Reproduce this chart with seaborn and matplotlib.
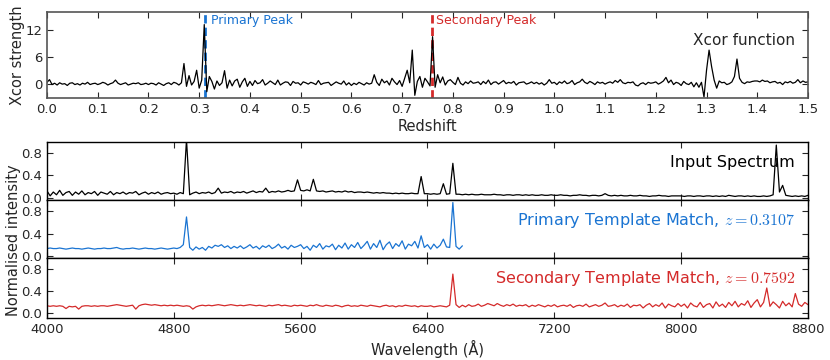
import numpy as np
import pandas as pd
import seaborn as sns
import matplotlib.pyplot as plt

# --- cross-correlation function, redshift grid step 0.005 from 0 to 1.5 ---
xcor_strength = [
    0.3, 0.9, -0.2, 0.1, -0.3, 0.2, -0.1, 0.0, -0.4, 0.1, 0.2, -0.2, 0.0, -0.3, 0.1, -0.1, 0.3, -0.2, 0.0, 0.1,
    -0.2, 0.0, 0.3, 0.1, -0.3, 0.0, 0.2, 0.8, 0.1, -0.2, 0.0, 0.2, -0.3, -0.1, 0.1, 0.0, 0.2, -0.2, -0.1, 0.1,
    -0.2, 0.1, 0.0, -0.3, 0.2, -0.1, -0.4, 0.0, 0.2, -0.2, 0.3, 0.1, -0.3, 0.2, 4.5, -0.6, 1.8, -0.3, 0.5, 3.0,
    -1.0, 0.8, 13.2, -1.8, 1.6, 0.5, -1.2, 0.6, -0.4, 0.2, 2.9, -1.0, 0.8, -0.5, 0.6, 1.0, -0.8, 0.4, 1.2, -0.6,
    0.5, -0.4, 0.7, 0.0, 0.2, 0.9, -0.3, 0.1, 0.6, 0.2, -0.2, 0.8, -0.3, 0.1, 0.4, 0.3, -0.4, 0.5, 0.1, 0.2,
    -0.3, 0.4, 0.2, -0.1, 0.3, 0.1, -0.2, 0.7, -0.2, 0.1, 0.2, 0.3, -0.4, 0.0, 0.4, 0.1, -0.1, 0.6, -0.3, 0.2,
    -0.4, 0.1, -0.2, 0.3, 0.0, -0.3, 0.2, -0.1, 0.1, 2.0, 0.3, -0.4, 1.0, 0.2, 0.6, -0.3, 1.2, 0.4, -0.2, 0.7,
    -0.6, 1.2, 3.0, 0.2, 7.5, -2.6, 0.5, 1.6, -0.8, 1.2, 0.4, -0.5, 10.5, -0.8, 2.0, 0.2, 1.5, -0.3, 0.6, 0.9,
    0.3, -0.2, 1.4, 0.1, -0.3, 0.4, 0.0, 0.6, 0.1, 0.2, 0.4, -0.2, 0.5, 0.0, 0.8, -0.2, 0.3, 0.4, -0.1, 0.3,
    0.7, 0.0, 0.3, 0.1, 0.5, -0.3, 0.2, 0.3, 0.4, -0.1, 0.1, 0.4, 0.0, 0.3, -0.1, 0.2, -0.3, 0.1, 0.9, 0.1,
    0.3, -0.2, 0.4, 0.1, 0.6, 0.0, 0.2, 0.7, -0.2, 0.2, 0.4, 1.0, 0.3, 0.0, 0.5, 0.2, -0.2, 0.4, 0.1, 0.3,
    -0.1, 0.2, 0.4, 0.1, 0.7, 0.3, 0.9, 0.2, 0.0, 0.3, 0.2, 0.4, -0.3, -0.5, 0.0, 0.2, -0.2, 0.3, 0.1, 0.2,
    0.4, -0.1, 0.2, 0.6, 1.4, 0.2, 0.8, -0.2, 0.3, 0.1, -0.4, 0.5, 0.0, -0.2, 0.3, -0.7, 0.2, -0.8, 0.3, -3.0,
    3.0, 7.5, 3.8, 0.8, -1.0, 0.6, 0.2, 0.3, -0.2, 0.0, 0.4, 1.6, 5.5, 1.2, 0.3, 0.0, 0.4, 0.3, 0.5, 0.6,
    0.6, 0.4, 0.8, 0.5, 0.6, 0.2, 0.4, 0.5, 0.1, 0.3, -0.2, 0.4, 0.2, 0.5, 0.1, 0.3, 0.9, 0.2, 0.6, 0.3,
    0.4,
]
redshift = np.linspace(0.0, 1.5, len(xcor_strength))
primary_z = 0.3107
secondary_z = 0.7592

# --- spectra, wavelength grid step 20 A from 4000 A ---
input_flux = [
    0.12, 0.03, 0.10, 0.05, 0.13, 0.04, 0.09, 0.11, 0.04, 0.10, 0.06, 0.12, 0.05, 0.09, 0.07, 0.11, 0.04, 0.10, 0.08, 0.06,
    0.11, 0.05, 0.09, 0.07, 0.10, 0.06, 0.09, 0.08, 0.11, 0.05, 0.08, 0.10, 0.06, 0.09, 0.07, 0.10, 0.06, 0.08, 0.09, 0.07,
    0.08, 0.06, 0.09, 0.07, 1.05, 0.05, 0.08, 0.10, 0.07, 0.09, 0.08, 0.10, 0.07, 0.09, 0.17, 0.08, 0.10, 0.09, 0.11, 0.08,
    0.10, 0.09, 0.11, 0.08, 0.10, 0.12, 0.09, 0.11, 0.10, 0.17, 0.09, 0.11, 0.10, 0.12, 0.10, 0.11, 0.13, 0.11, 0.12, 0.32,
    0.13, 0.12, 0.14, 0.12, 0.33, 0.12, 0.11, 0.12, 0.10, 0.11, 0.12, 0.10, 0.11, 0.10, 0.12, 0.10, 0.11, 0.09, 0.10, 0.10,
    0.09, 0.10, 0.09, 0.08, 0.09, 0.08, 0.09, 0.08, 0.08, 0.07, 0.08, 0.07, 0.08, 0.07, 0.07, 0.08, 0.07, 0.07, 0.38, 0.07,
    0.07, 0.06, 0.07, 0.06, 0.07, 0.25, 0.06, 0.07, 0.62, 0.06, 0.06, 0.05, 0.06, 0.05, 0.06, 0.05, 0.05, 0.06, 0.05, 0.05,
    0.05, 0.06, 0.05, 0.05, 0.04, 0.05, 0.05, 0.04, 0.05, 0.05, 0.04, 0.05, 0.04, 0.05, 0.04, 0.04, 0.05, 0.04, 0.04, 0.05,
    0.04, 0.04, 0.05, 0.04, 0.04, 0.03, 0.04, 0.04, 0.05, 0.04, 0.04, 0.03, 0.04, 0.04, 0.03, 0.04, 0.07, 0.04, 0.03, 0.04,
    0.03, 0.04, 0.03, 0.03, 0.04, 0.03, 0.03, 0.04, 0.03, 0.03, 0.02, 0.03, 0.03, 0.04, 0.03, 0.03, 0.02, 0.03, 0.03, 0.03,
    0.03, 0.02, 0.03, 0.03, 0.02, 0.03, 0.03, 0.02, 0.03, 0.03, 0.02, 0.03, 0.02, 0.03, 0.02, 0.04, 0.03, 0.02, 0.03, 0.03,
    0.02, 0.03, 0.02, 0.03, 0.02, 0.02, 0.03, 0.02, 0.03, 0.05, 0.95, 0.10, 0.22, 0.04, 0.03, 0.02, 0.03, 0.02, 0.03, 0.02,
    0.04,
]
primary_flux = [
    0.13, 0.14, 0.13, 0.13, 0.14, 0.13, 0.12, 0.13, 0.14, 0.13, 0.13, 0.12, 0.13, 0.14, 0.13, 0.12, 0.13, 0.13, 0.14, 0.13,
    0.13, 0.14, 0.15, 0.13, 0.12, 0.13, 0.13, 0.14, 0.13, 0.12, 0.13, 0.14, 0.13, 0.13, 0.12, 0.13, 0.14, 0.13, 0.12, 0.13,
    0.14, 0.13, 0.15, 0.20, 0.70, 0.15, 0.10, 0.16, 0.12, 0.15, 0.10, 0.17, 0.14, 0.19, 0.17, 0.20, 0.15, 0.18, 0.13, 0.17,
    0.14, 0.18, 0.13, 0.16, 0.20, 0.14, 0.17, 0.12, 0.18, 0.15, 0.19, 0.13, 0.16, 0.21, 0.14, 0.17, 0.12, 0.19, 0.15, 0.17,
    0.20, 0.13, 0.17, 0.10, 0.19, 0.15, 0.22, 0.12, 0.18, 0.16, 0.21, 0.11, 0.19, 0.14, 0.23, 0.12, 0.20, 0.15, 0.24, 0.13,
    0.19, 0.26, 0.12, 0.22, 0.15, 0.28, 0.11, 0.20, 0.25, 0.13, 0.22, 0.17, 0.27, 0.12, 0.21, 0.18, 0.26, 0.14, 0.36, 0.15,
    0.20, 0.12, 0.21, 0.14, 0.19, 0.30, 0.16, 0.15, 0.96, 0.17, 0.12, 0.18,
]
secondary_flux = [
    0.13, 0.12, 0.13, 0.12, 0.13, 0.12, 0.08, 0.12, 0.11, 0.12, 0.07, 0.12, 0.13, 0.13, 0.12, 0.13, 0.12, 0.13, 0.13, 0.12,
    0.13, 0.14, 0.15, 0.14, 0.13, 0.12, 0.13, 0.14, 0.07, 0.13, 0.15, 0.16, 0.15, 0.14, 0.15, 0.14, 0.13, 0.14, 0.13, 0.14,
    0.13, 0.14, 0.13, 0.12, 0.13, 0.12, 0.07, 0.11, 0.13, 0.14, 0.13, 0.14, 0.13, 0.14, 0.15, 0.14, 0.13, 0.14, 0.15, 0.14,
    0.13, 0.14, 0.13, 0.14, 0.15, 0.14, 0.13, 0.14, 0.13, 0.12, 0.14, 0.13, 0.14, 0.15, 0.13, 0.14, 0.13, 0.12, 0.14, 0.13,
    0.14, 0.13, 0.12, 0.14, 0.13, 0.15, 0.13, 0.12, 0.14, 0.13, 0.12, 0.14, 0.13, 0.11, 0.13, 0.14, 0.12, 0.13, 0.12, 0.14,
    0.13, 0.12, 0.14, 0.13, 0.12, 0.11, 0.13, 0.14, 0.12, 0.13, 0.11, 0.13, 0.12, 0.14, 0.13, 0.12, 0.13, 0.11, 0.13, 0.12,
    0.12, 0.13, 0.11, 0.12, 0.13, 0.12, 0.11, 0.14, 0.70, 0.15, 0.10, 0.14, 0.11, 0.15, 0.12, 0.13, 0.16, 0.12, 0.14, 0.17,
    0.15, 0.13, 0.17, 0.14, 0.12, 0.15, 0.13, 0.16, 0.12, 0.14, 0.13, 0.15, 0.11, 0.14, 0.12, 0.15, 0.13, 0.11, 0.14, 0.12,
    0.15, 0.11, 0.13, 0.14, 0.12, 0.15, 0.10, 0.13, 0.14, 0.12, 0.16, 0.11, 0.13, 0.15, 0.12, 0.14, 0.18, 0.12, 0.13, 0.15,
    0.11, 0.14, 0.12, 0.16, 0.10, 0.14, 0.13, 0.15, 0.09, 0.14, 0.17, 0.11, 0.15, 0.12, 0.18, 0.09, 0.16, 0.13, 0.11, 0.17,
    0.12, 0.16, 0.09, 0.18, 0.13, 0.11, 0.19, 0.10, 0.15, 0.17, 0.09, 0.20, 0.12, 0.16, 0.10, 0.19, 0.13, 0.21, 0.11, 0.17,
    0.14, 0.22, 0.10, 0.18, 0.24, 0.11, 0.19, 0.45, 0.12, 0.20, 0.15, 0.09, 0.21, 0.13, 0.18, 0.11, 0.35, 0.16, 0.12, 0.19,
    0.15,
]
wl_start, wl_step = 4000, 20
wavelength = wl_start + wl_step * np.arange(len(input_flux))
primary_wavelength = wavelength[:len(primary_flux)]

redshift_ticks = [0.0, 0.1, 0.2, 0.3, 0.4, 0.5, 0.6, 0.7, 0.8, 0.9, 1.0, 1.1, 1.2, 1.3, 1.4, 1.5]
xcor_ticks = [0, 6, 12]
wavelength_ticks = [4000, 4800, 5600, 6400, 7200, 8000, 8800]
intensity_ticks = [0.0, 0.4, 0.8]

BLUE = "#1a74d2"
RED = "#d42a2a"

sns.set_style("ticks", {"xtick.direction": "in", "ytick.direction": "in"})
plt.rcParams["font.family"] = ["DejaVu Sans"]
plt.rcParams["mathtext.fontset"] = "cm"
plt.rcParams["xtick.top"] = True
plt.rcParams["ytick.right"] = True
plt.rcParams["xtick.major.size"] = 4
plt.rcParams["ytick.major.size"] = 4
plt.rcParams["xtick.labelsize"] = 9.5
plt.rcParams["ytick.labelsize"] = 9.5

fig = plt.figure(figsize=(8.3, 3.6), dpi=100)

# --- top panel: cross-correlation ---
ax0 = fig.add_axes([0.0566, 0.7278, 0.9169, 0.2375])
ax0.axvline(primary_z, color=BLUE, lw=2, ls=(0, (3, 1.5)), zorder=1)
ax0.axvline(secondary_z, color=RED, lw=2, ls=(0, (3, 1.5)), zorder=1)
sns.lineplot(x=redshift, y=xcor_strength, ax=ax0, color="black", lw=0.9, estimator=None, zorder=2)
ax0.set_xlim(0, 1.5)
ax0.set_ylim(-3.2, 15.9)
ax0.set_xticks(redshift_ticks)
ax0.set_xticklabels([f"{t:.1f}" for t in redshift_ticks])
ax0.set_yticks(xcor_ticks)
ax0.set_xlabel("Redshift", fontsize=10.5, labelpad=2)
ax0.set_ylabel("Xcor strength", fontsize=10.5, labelpad=0)
ax0.text(primary_z + 0.013, 14.0, "Primary Peak", color=BLUE, fontsize=9, va="center")
ax0.text(secondary_z + 0.008, 14.0, "Secondary Peak", color=RED, fontsize=9, va="center")
ax0.text(0.983, 0.67, "Xcor function", transform=ax0.transAxes, ha="right", va="center", fontsize=11)
for s in ax0.spines.values():
    s.set_color("#555555")
    s.set_linewidth(1.2)

# --- bottom panels: spectra ---
panels = [
    (0.4436, 0.1611, wavelength, input_flux, "black", "Input Spectrum", (-0.05, 1.0)),
    (0.2833, 0.1603, primary_wavelength, primary_flux, BLUE,
     "Primary Template Match, $z=%.4f$" % primary_z, (-0.04, 1.0)),
    (0.1167, 0.1667, wavelength, secondary_flux, RED,
     "Secondary Template Match, $z=%.4f$" % secondary_z, (-0.09, 0.99)),
]
axes = []
for bottom, height, wl, flux, color, label, ylim in panels:
    ax = fig.add_axes([0.0566, bottom, 0.9169, height])
    sns.lineplot(x=wl, y=flux, ax=ax, color=color, lw=0.9, estimator=None)
    ax.set_xlim(4000, 8800)
    ax.set_ylim(*ylim)
    ax.set_xticks(wavelength_ticks)
    ax.set_yticks(intensity_ticks)
    ax.set_yticklabels([f"{t:.1f}" for t in intensity_ticks])
    ax.text(0.983, 0.65, label, transform=ax.transAxes, ha="right", va="center",
            fontsize=11.5, color=color)
    for s in ax.spines.values():
        s.set_color("black")
        s.set_linewidth(1.0)
    axes.append(ax)

for ax in axes[:-1]:
    ax.tick_params(labelbottom=False)
axes[-1].set_xlabel("Wavelength (Å)", fontsize=10.5, labelpad=3)
fig.text(0.016, 0.333, "Normalised intensity", rotation=90, ha="center", va="center", fontsize=10.5)

fig.savefig("out.png", dpi=100)
